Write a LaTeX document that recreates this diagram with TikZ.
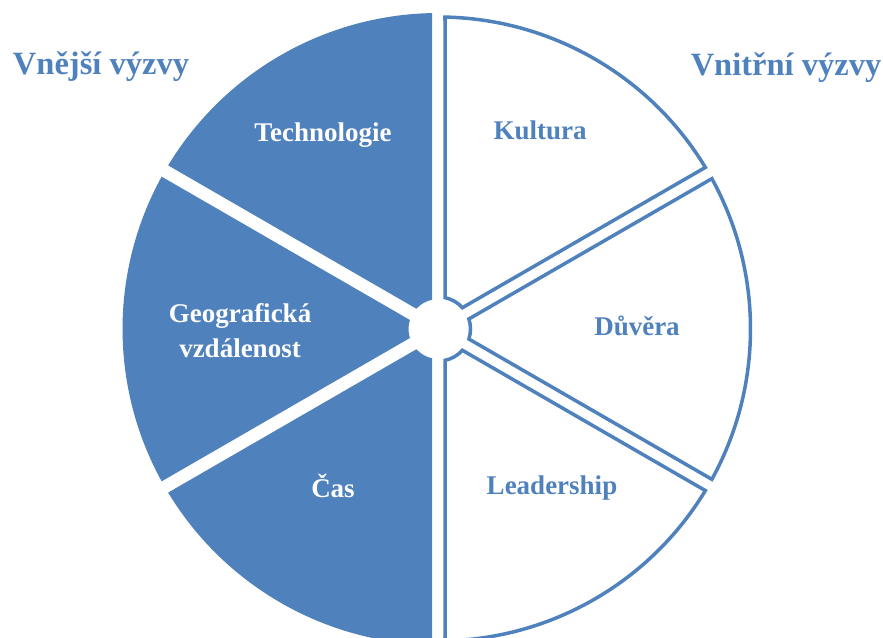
\documentclass[tikz,border=0pt]{standalone}
\usepackage{fontspec}
\setmainfont{Liberation Serif}
\usetikzlibrary{positioning}
\definecolor{wheelblue}{HTML}{4F81BD}
% one wedge of the wheel: start angle, end angle, outer radius, inner radius
\newcommand{\segpath}[4]{({#1+asin(\h/#4)}:#4) -- ({#1+asin(\h/#3)}:#3)
  arc[start angle={#1+asin(\h/#3)}, end angle={#2-asin(\h/#3)}, radius=#3]
  -- ({#2-asin(\h/#4)}:#4)
  arc[start angle={#2-asin(\h/#4)}, end angle={#1+asin(\h/#4)}, radius=#4] -- cycle}
\tikzset{
  title/.style={text=wheelblue, font=\bfseries\fontsize{32.5}{38}\selectfont, anchor=base},
  outer/.style={text=white, font=\bfseries\fontsize{27}{35}\selectfont, align=center},
  inner/.style={text=wheelblue, font=\bfseries\fontsize{27}{35}\selectfont, align=center},
}
\begin{document}
\begin{tikzpicture}[x=1pt,y=1pt]
			\useasboundingbox (0,0) rectangle (883,637);
			\clip (0,0) rectangle (883,637);
			\def\h{6.5}
			\begin{scope}[shift={(438.5,308)}]
				% filled half
				\fill[wheelblue] \segpath{90}{150}{316}{30};
				\fill[wheelblue] \segpath{150}{210}{316}{30};
				\fill[wheelblue] \segpath{210}{270}{316}{30};
				% outlined half
				\draw[wheelblue, line width=3.5pt] \segpath{30}{90}{312}{32};
				\draw[wheelblue, line width=3.5pt] \segpath{-30}{30}{312}{32};
				\draw[wheelblue, line width=3.5pt] \segpath{-90}{-30}{312}{32};
			\end{scope}
			\node[title] (vnejsi) at (101,562) {Vnější výzvy};
			\node[title] (vnitrni) at (786,561) {Vnitřní výzvy};
			\node[outer] (tech) at (323,502) {Technologie};
			\node[outer] (geo) at (240,306) {Geografická\\vzdálenost};
			\node[outer] (cas) at (333,151) {Čas};
			\node[inner] (kult) at (540,507) {Kultura};
			\node[inner] (duv) at (637,311) {Důvěra};
			\node[inner] (lead) at (552,149) {Leadership};
		\end{tikzpicture}
\end{document}
